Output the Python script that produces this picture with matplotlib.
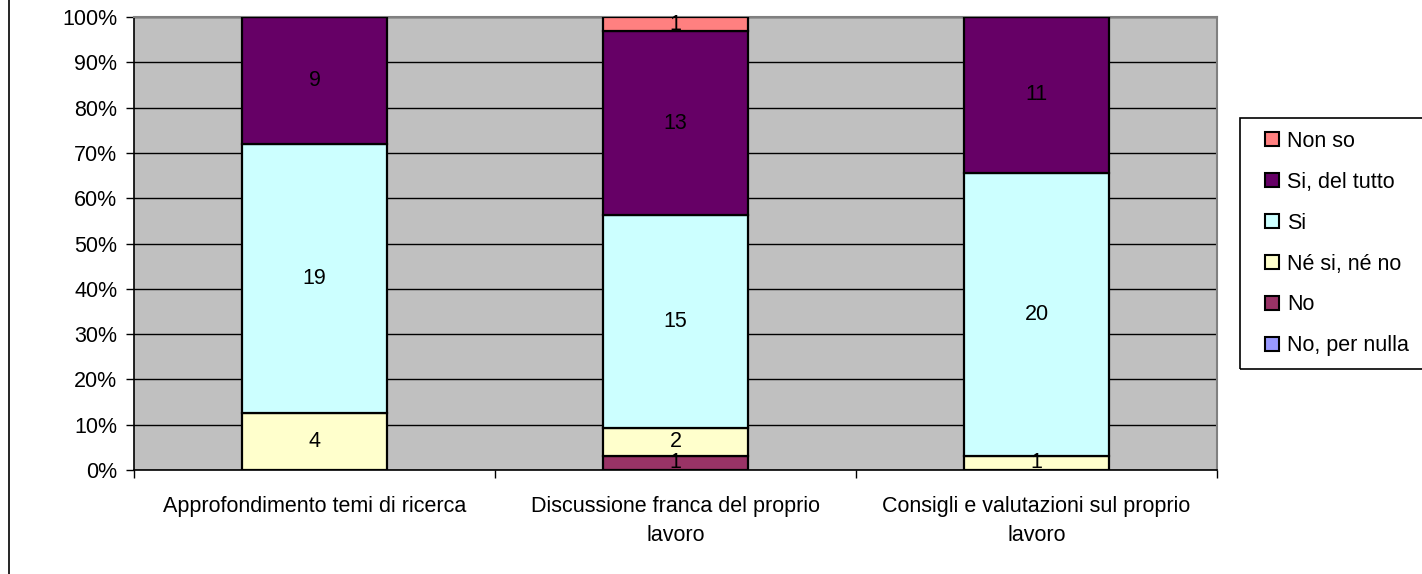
import numpy as np
import matplotlib.pyplot as plt
from matplotlib.patches import Patch, Rectangle
from matplotlib.lines import Line2D

plt.rcParams['font.family'] = ['Liberation Sans', 'DejaVu Sans']

categories = ['Approfondimento temi di ricerca',
              'Discussione franca del proprio\nlavoro',
              'Consigli e valutazioni sul proprio\nlavoro']
series = ['No, per nulla', 'No', 'Né si, né no', 'Si', 'Si, del tutto', 'Non so']
no_per_nulla = [0, 0, 0]
no = [0, 1, 0]
ne_si_ne_no = [4, 2, 1]
si = [19, 15, 20]
si_del_tutto = [9, 13, 11]
non_so = [0, 1, 0]
colors = ['#9999FF', '#993366', '#FFFFCC', '#CCFFFF', '#660066', '#FF8080']

data = np.array([no_per_nulla, no, ne_si_ne_no, si, si_del_tutto, non_so], dtype=float)
pct = data / data.sum(axis=0) * 100
fs = 15.5

fig = plt.figure(figsize=(14.22, 5.74), dpi=100)
ax = fig.add_axes([134 / 1422, 104 / 574, 1083 / 1422, 453 / 574])
ax.set_facecolor('#C0C0C0')

x = np.arange(len(categories))
bottom = np.zeros(len(categories))
for i, name in enumerate(series):
    ax.bar(x, pct[i], 0.4, bottom=bottom, color=colors[i], edgecolor='black',
           linewidth=1.6, zorder=3)
    for j in range(len(categories)):
        if data[i, j] > 0:
            ax.text(x[j], bottom[j] + pct[i, j] / 2, '%d' % data[i, j],
                    ha='center', va='center', fontsize=fs, color='black', zorder=4)
    bottom += pct[i]

ax.set_xlim(-0.5, 2.5)
ax.set_ylim(0, 100)
ax.set_yticks(range(0, 101, 10))
ax.set_yticklabels(['%d%%' % v for v in range(0, 101, 10)], fontsize=fs)
ax.yaxis.grid(True, color='black', linewidth=1.0, zorder=0)
ax.set_axisbelow(True)

ax.set_xticks(x)
ax.set_xticklabels(categories, fontsize=fs)
for lbl in ax.get_xticklabels():
    lbl.set_linespacing(1.5)
ax.set_xticks([-0.5, 0.5, 1.5, 2.5], minor=True)
ax.tick_params(axis='x', which='major', length=0, pad=19)
ax.tick_params(axis='x', which='minor', length=6, direction='out', width=1)
ax.tick_params(axis='y', length=6, direction='out', width=1, pad=6)

ax.spines['left'].set_color('black')
ax.spines['bottom'].set_color('black')
ax.spines['left'].set_linewidth(1.2)
ax.spines['bottom'].set_linewidth(1.2)
ax.spines['top'].set_color('#808080')
ax.spines['right'].set_color('#808080')
ax.spines['top'].set_linewidth(1.5)
ax.spines['right'].set_linewidth(1.5)

# legend, top entry is last series
handles = [Patch(facecolor=colors[i], edgecolor='black', linewidth=1.5, label=series[i])
           for i in range(len(series) - 1, -1, -1)]
fig.legend(handles=handles, loc='upper left', bbox_to_anchor=(1254 / 1422, 1 - 120 / 574),
           frameon=False, fontsize=fs, handlelength=0.65, handleheight=0.65,
           handletextpad=0.4, labelspacing=0.925, borderpad=0)
fig.patches.append(Rectangle((1240 / 1422, 1 - 369 / 574), 200 / 1422, 251 / 574,
                             transform=fig.transFigure, facecolor='none',
                             edgecolor='black', linewidth=1.2))
fig.lines.append(Line2D([8.5 / 1422, 8.5 / 1422], [0, 1], transform=fig.transFigure,
                        color='black', linewidth=1.2))

plt.savefig('out.png', dpi=100)
